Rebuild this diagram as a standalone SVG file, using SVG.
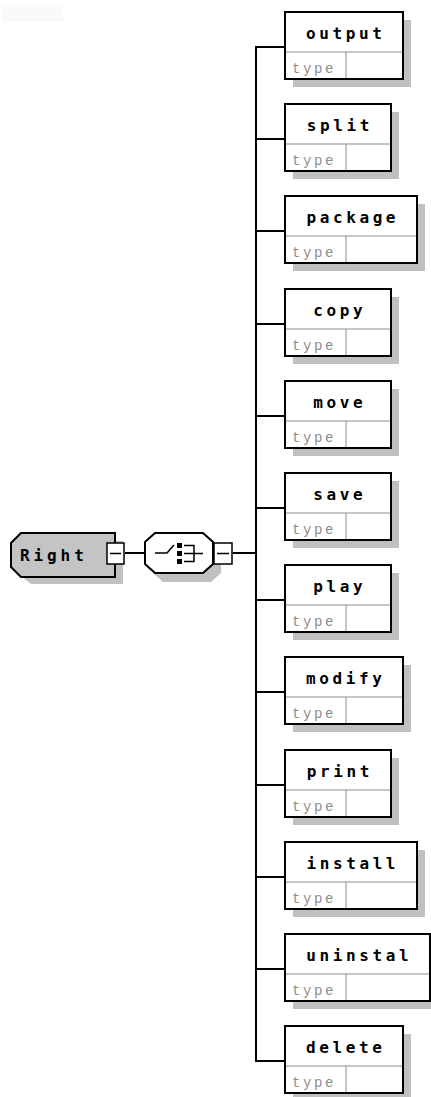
<svg xmlns="http://www.w3.org/2000/svg" width="431" height="1097" viewBox="0 0 431 1097">
<style>
.shadow{fill:#c0c0c0;stroke:none}
.box{fill:#ffffff;stroke:#000000;stroke-width:2}
.sep{stroke:#8c8c8c;stroke-width:1;fill:none}
.name{font-family:"DejaVu Sans Mono",monospace;font-weight:bold;font-size:16px;letter-spacing:3.6px;fill:#000;text-anchor:middle}
.type{font-family:"Liberation Mono",monospace;font-size:14px;letter-spacing:2.6px;fill:#8c8c8c}
.conn{stroke:#000;stroke-width:2;fill:none}
.pm{fill:#fff;stroke:#000;stroke-width:1.5}
</style>
<rect x="2" y="4" width="61" height="18" fill="#fafafa"/>
<g id="connectors">
<line class="conn" x1="125" y1="553" x2="145" y2="553"/>
<line class="conn" x1="233" y1="553" x2="256" y2="553"/>
<line class="conn" x1="256" y1="46" x2="256" y2="1062"/>
<line class="conn" x1="256" y1="47" x2="285" y2="47"/>
<line class="conn" x1="256" y1="139" x2="285" y2="139"/>
<line class="conn" x1="256" y1="231" x2="285" y2="231"/>
<line class="conn" x1="256" y1="324" x2="285" y2="324"/>
<line class="conn" x1="256" y1="416" x2="285" y2="416"/>
<line class="conn" x1="256" y1="508" x2="285" y2="508"/>
<line class="conn" x1="256" y1="600" x2="285" y2="600"/>
<line class="conn" x1="256" y1="692" x2="285" y2="692"/>
<line class="conn" x1="256" y1="785" x2="285" y2="785"/>
<line class="conn" x1="256" y1="877" x2="285" y2="877"/>
<line class="conn" x1="256" y1="969" x2="285" y2="969"/>
<line class="conn" x1="256" y1="1061" x2="285" y2="1061"/>
</g>
<g id="node-Right">
<path class="shadow" d="M21 541 L31 541 L123 541 L123 584 L31 584 L21 576 Z"/>
<path d="M11 543 L21 533 L115 533 L115 577 L21 577 L11 567 Z" fill="#c4c4c4" stroke="#000" stroke-width="2"/>
<text x="20" y="561" font-family="DejaVu Sans Mono, monospace" font-weight="bold" font-size="16" letter-spacing="3.9" fill="#000">Right</text>
<rect class="pm" x="107" y="543" width="17" height="21"/>
<line x1="110" y1="553.5" x2="121" y2="553.5" stroke="#000" stroke-width="1.5"/>
</g>
<g id="node-sequence">
<path class="shadow" d="M163 541 L211 541 L221 551 L221 573 L211 582 L163 582 L153 573 Z"/>
<path d="M145 542 L155 533 L203 533 L213 542 L213 564 L203 573 L155 573 L145 564 Z" fill="#fff" stroke="#000" stroke-width="2"/>
<path d="M155 553 L167 553 L174 545" fill="none" stroke="#000" stroke-width="1.5"/>
<rect x="177" y="543" width="5" height="5" fill="#000"/>
<rect x="177" y="551" width="5" height="5" fill="#000"/>
<rect x="177" y="559" width="5" height="5" fill="#000"/>
<path d="M184 545.5 L194 545.5 L194 561.5 L184 561.5 M184 553.5 L203 553.5" fill="none" stroke="#000" stroke-width="1.5"/>
<rect class="pm" x="214" y="543" width="18" height="21"/>
<line x1="217" y1="553.5" x2="229" y2="553.5" stroke="#000" stroke-width="1.5"/>
</g>
<g id="node-output" transform="translate(285,12)">
<rect class="shadow" x="8" y="8" width="118" height="67"/>
<rect class="box" x="0" y="0" width="118" height="67"/>
<line class="sep" x1="1" y1="40" x2="117" y2="40"/>
<line class="sep" x1="61" y1="40" x2="61" y2="66"/>
<text class="name" x="60.8" y="27">output</text>
<text class="type" x="7" y="61">type</text>
</g>
<g id="node-split" transform="translate(285,104)">
<rect class="shadow" x="8" y="8" width="106" height="67"/>
<rect class="box" x="0" y="0" width="106" height="67"/>
<line class="sep" x1="1" y1="40" x2="105" y2="40"/>
<line class="sep" x1="61" y1="40" x2="61" y2="66"/>
<text class="name" x="54.8" y="27">split</text>
<text class="type" x="7" y="61">type</text>
</g>
<g id="node-package" transform="translate(285,196)">
<rect class="shadow" x="8" y="8" width="132" height="67"/>
<rect class="box" x="0" y="0" width="132" height="67"/>
<line class="sep" x1="1" y1="40" x2="131" y2="40"/>
<line class="sep" x1="61" y1="40" x2="61" y2="66"/>
<text class="name" x="67.8" y="27">package</text>
<text class="type" x="7" y="61">type</text>
</g>
<g id="node-copy" transform="translate(285,289)">
<rect class="shadow" x="8" y="8" width="106" height="67"/>
<rect class="box" x="0" y="0" width="106" height="67"/>
<line class="sep" x1="1" y1="40" x2="105" y2="40"/>
<line class="sep" x1="61" y1="40" x2="61" y2="66"/>
<text class="name" x="54.8" y="27">copy</text>
<text class="type" x="7" y="61">type</text>
</g>
<g id="node-move" transform="translate(285,381)">
<rect class="shadow" x="8" y="8" width="106" height="67"/>
<rect class="box" x="0" y="0" width="106" height="67"/>
<line class="sep" x1="1" y1="40" x2="105" y2="40"/>
<line class="sep" x1="61" y1="40" x2="61" y2="66"/>
<text class="name" x="54.8" y="27">move</text>
<text class="type" x="7" y="61">type</text>
</g>
<g id="node-save" transform="translate(285,473)">
<rect class="shadow" x="8" y="8" width="106" height="67"/>
<rect class="box" x="0" y="0" width="106" height="67"/>
<line class="sep" x1="1" y1="40" x2="105" y2="40"/>
<line class="sep" x1="61" y1="40" x2="61" y2="66"/>
<text class="name" x="54.8" y="27">save</text>
<text class="type" x="7" y="61">type</text>
</g>
<g id="node-play" transform="translate(285,565)">
<rect class="shadow" x="8" y="8" width="106" height="67"/>
<rect class="box" x="0" y="0" width="106" height="67"/>
<line class="sep" x1="1" y1="40" x2="105" y2="40"/>
<line class="sep" x1="61" y1="40" x2="61" y2="66"/>
<text class="name" x="54.8" y="27">play</text>
<text class="type" x="7" y="61">type</text>
</g>
<g id="node-modify" transform="translate(285,657)">
<rect class="shadow" x="8" y="8" width="118" height="67"/>
<rect class="box" x="0" y="0" width="118" height="67"/>
<line class="sep" x1="1" y1="40" x2="117" y2="40"/>
<line class="sep" x1="61" y1="40" x2="61" y2="66"/>
<text class="name" x="60.8" y="27">modify</text>
<text class="type" x="7" y="61">type</text>
</g>
<g id="node-print" transform="translate(285,750)">
<rect class="shadow" x="8" y="8" width="106" height="67"/>
<rect class="box" x="0" y="0" width="106" height="67"/>
<line class="sep" x1="1" y1="40" x2="105" y2="40"/>
<line class="sep" x1="61" y1="40" x2="61" y2="66"/>
<text class="name" x="54.8" y="27">print</text>
<text class="type" x="7" y="61">type</text>
</g>
<g id="node-install" transform="translate(285,842)">
<rect class="shadow" x="8" y="8" width="132" height="67"/>
<rect class="box" x="0" y="0" width="132" height="67"/>
<line class="sep" x1="1" y1="40" x2="131" y2="40"/>
<line class="sep" x1="61" y1="40" x2="61" y2="66"/>
<text class="name" x="67.8" y="27">install</text>
<text class="type" x="7" y="61">type</text>
</g>
<g id="node-uninstal" transform="translate(285,934)">
<rect class="shadow" x="8" y="8" width="146" height="67"/>
<rect class="box" x="0" y="0" width="145" height="67"/>
<line class="sep" x1="1" y1="40" x2="144" y2="40"/>
<line class="sep" x1="61" y1="40" x2="61" y2="66"/>
<text class="name" x="74.3" y="27">uninstal</text>
<text class="type" x="7" y="61">type</text>
</g>
<g id="node-delete" transform="translate(285,1026)">
<rect class="shadow" x="8" y="8" width="118" height="67"/>
<rect class="box" x="0" y="0" width="118" height="67"/>
<line class="sep" x1="1" y1="40" x2="117" y2="40"/>
<line class="sep" x1="61" y1="40" x2="61" y2="66"/>
<text class="name" x="60.8" y="27">delete</text>
<text class="type" x="7" y="61">type</text>
</g>
</svg>
